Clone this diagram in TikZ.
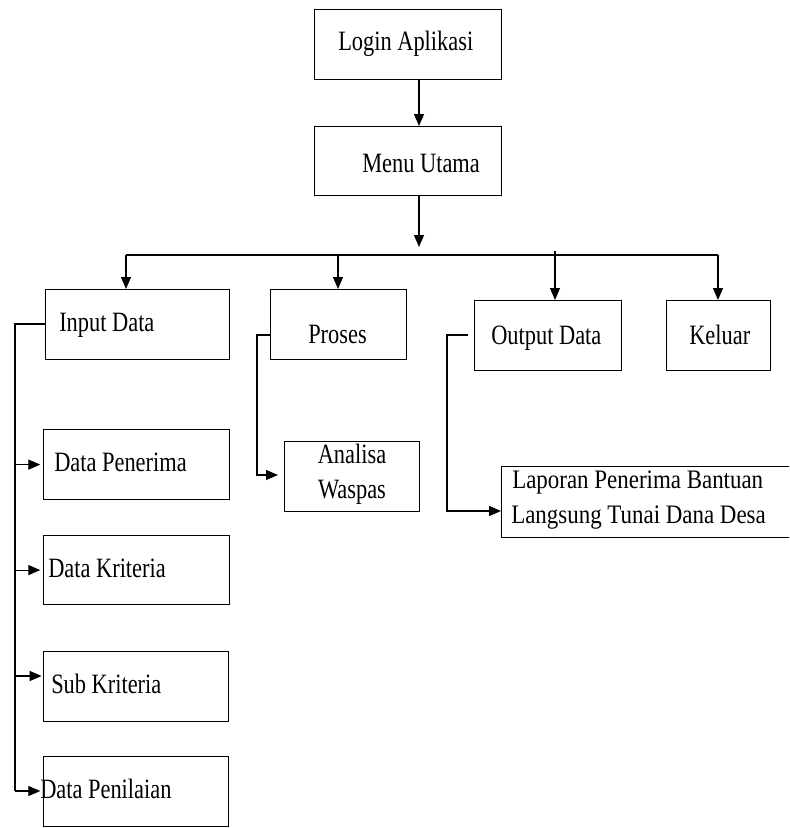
\documentclass[tikz,border=0pt]{standalone}
\usepackage{fontspec}
\setmainfont[FakeStretch=0.8]{Liberation Serif}
\newfontfamily\widefont[FakeStretch=0.86]{Liberation Serif}
\usetikzlibrary{arrows.meta}

% box helper: name, left, top, width, height (all in px units)
\newcommand\boxat[5]{\node[box, minimum width=#4*0.75pt, minimum height=#5*0.75pt] (#1) at (#2,#3) {};}

\begin{document}
\begin{tikzpicture}[x=0.75pt,y=-0.75pt,
  box/.style={draw, line width=0.9pt, inner sep=0pt, anchor=north west},
  lbl/.style={anchor=base west, inner sep=0pt, font=\fontsize{21}{25}\selectfont},
  clbl/.style={lbl, anchor=base},
  link/.style={line width=0.9pt},
  arr/.style={link, -{Triangle[length=9pt,width=7.5pt]}}]
\useasboundingbox (0,0) rectangle (789,828);
\clip (0,0) rectangle (789,828);

% boxes
\boxat{login}{314}{9}{187}{70}
\boxat{menu}{314}{126}{187}{69}
\boxat{input}{45}{289}{184}{70}
\boxat{proses}{270}{289}{136}{70}
\boxat{output}{474}{300}{147}{70}
\boxat{keluar}{666}{300}{104}{70}
\boxat{penerima}{43}{429}{186}{70}
\boxat{kriteria}{43}{535}{186}{69}
\boxat{sub}{43}{651}{185}{70}
\boxat{penilaian}{43}{756}{185}{70}
\boxat{analisa}{284}{441}{135}{70}
\boxat{laporan}{501}{466}{300}{71}

% labels
\node[lbl] (tlogin) at (338,50) {Login Aplikasi};
\node[lbl] (tmenu) at (362,172) {Menu Utama};
\node[lbl] (tinput) at (59,331) {Input Data};
\node[lbl] (tproses) at (308,343) {Proses};
\node[lbl] (toutput) at (491,344) {Output Data};
\node[lbl] (tkeluar) at (689,344) {Keluar};
\node[lbl] (tpenerima) at (54,471) {Data Penerima};
\node[lbl] (tkriteria) at (48,577) {Data Kriteria};
\node[lbl] (tsub) at (51,693) {Sub Kriteria};
\node[lbl] (tpenilaian) at (40,798) {Data Penilaian};
\node[clbl] (tanalisa) at (352,463) {Analisa};
\node[clbl] (twaspas) at (352,498) {Waspas};
\node[lbl, font=\fontsize{20}{24}\widefont] (tlap1) at (512,488) {Laporan Penerima Bantuan};
\node[lbl, font=\fontsize{20}{24}\widefont] (tlap2) at (511,523) {Langsung Tunai Dana Desa};

% main flow
\coordinate (c1) at (419,0);
\draw[arr] (c1 |- login.south) -- (c1 |- menu.north);
\coordinate (hub) at (419,247);
\draw[arr] (c1 |- menu.south) -- (hub);

% distribution bus
\coordinate (busL) at (126,255);
\coordinate (busR) at (718,255);
\coordinate (d2) at (338,255);
\coordinate (d3) at (555,251);
\draw[link] (busL) -- (busR);
\draw[arr] (busL) -- (busL |- input.north);
\draw[arr] (d2) -- (d2 |- proses.north);
\draw[arr] (d3) -- (d3 |- output.north);
\draw[arr] (busR) -- (busR |- keluar.north);

% input data branch
\coordinate (sp1) at (15,324);
\coordinate (sp2) at (15,791);
\coordinate (subin) at (15,676);
\draw[link] (input.west |- sp1) -- (sp1) -- (sp2);
\draw[arr, shorten >=2pt] (sp1 |- penerima.west) -- (penerima.west);
\draw[arr, shorten >=2pt] (sp1 |- kriteria.west) -- (kriteria.west);
\draw[arr, shorten >=1pt] (subin) -- (subin -| sub.west);
\draw[arr, shorten >=2pt] (sp2) -- (sp2 -| penilaian.west);

% proses branch
\coordinate (p1) at (257,335);
\coordinate (p2) at (257,475);
\draw[arr, shorten >=4.5pt] (proses.west |- p1) -- (p1) -- (p2) -- (p2 -| analisa.west);

% output branch
\coordinate (o1) at (447,335);
\coordinate (o2) at (447,511);
\draw[arr, shorten <=4.5pt] (output.west |- o1) -- (o1) -- (o2) -- (o2 -| laporan.west);
\end{tikzpicture}
\end{document}
